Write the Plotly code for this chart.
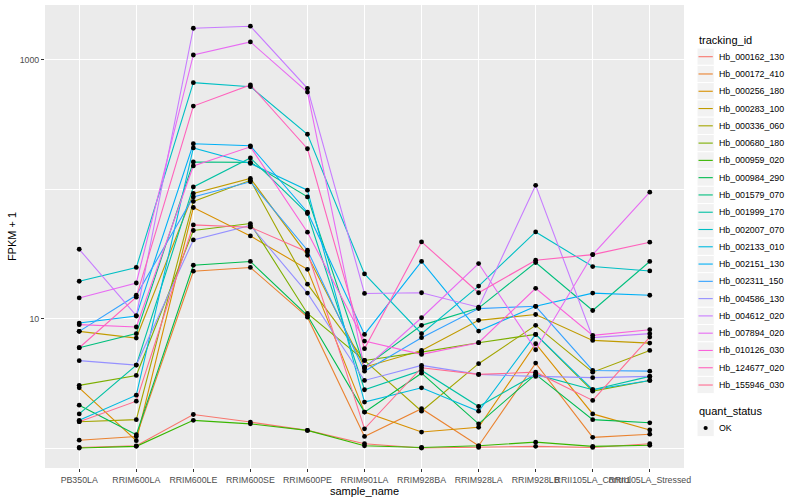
import plotly.graph_objects as go

samples = ["PB350LA", "RRIM600LA", "RRIM600LE", "RRIM600SE", "RRIM600PE", "RRIM901LA",
           "RRIM928BA", "RRIM928LA", "RRIM928LB", "RRII105LA_Control", "RRII105LA_Stressed"]

tracking_ids = ["Hb_000162_130", "Hb_000172_410", "Hb_000256_180", "Hb_000283_100", "Hb_000336_060",
                "Hb_000680_180", "Hb_000959_020", "Hb_000984_290", "Hb_001579_070", "Hb_001999_170",
                "Hb_002007_070", "Hb_002133_010", "Hb_002151_130", "Hb_002311_150", "Hb_004586_130",
                "Hb_004612_020", "Hb_007894_020", "Hb_010126_030", "Hb_124677_020", "Hb_155946_030"]

colors = ["#F8766D", "#EA8331", "#D89000", "#C09B00", "#A3A500", "#7CAE00", "#39B600", "#00BB4E",
          "#00BF7D", "#00C1A3", "#00BFC4", "#00BAE0", "#00B0F6", "#35A2FF", "#9590FF", "#C77CFF",
          "#E76BF3", "#FA62DB", "#FF62BC", "#FF6C91"]

# FPKM + 1 values, one list per tracking_id, in sample order
Hb_000162_130 = [1.02, 1.05, 1.83, 1.60, 1.38, 1.09, 1.01, 1.02, 1.04, 1.02, 1.09]
Hb_000172_410 = [1.16, 1.24, 23.3, 24.9, 10.3, 1.24, 2.03, 1.05, 4.56, 1.22, 1.29]
Hb_000256_180 = [2.94, 1.15, 72.2, 43.6, 24.1, 1.91, 1.34, 1.46, 6.43, 1.85, 1.39]
Hb_000283_100 = [8.01, 7.11, 92.6, 121, 30.9, 4.24, 5.71, 9.74, 10.8, 6.82, 6.50]
Hb_000336_060 = [1.61, 1.67, 80.4, 117, 18.5, 4.78, 1.94, 4.51, 8.91, 3.88, 5.71]
Hb_000680_180 = [3.07, 3.66, 48.0, 54.3, 11.0, 4.78, 5.54, 6.55, 7.59, 2.77, 3.35]
Hb_000959_020 = [1.01, 1.04, 1.65, 1.55, 1.38, 1.05, 1.02, 1.05, 1.12, 1.04, 1.06]
Hb_000984_290 = [2.16, 1.28, 25.9, 27.7, 10.6, 1.91, 3.81, 1.55, 3.73, 1.67, 1.58]
Hb_001579_070 = [5.99, 7.69, 162, 161, 87.2, 4.24, 8.91, 12.1, 27.2, 11.6, 27.7]
Hb_001999_170 = [1.85, 4.40, 104, 174, 64.9, 2.84, 4.00, 2.11, 3.73, 2.84, 3.60]
Hb_002007_070 = [19.5, 24.9, 662, 617, 265, 22.2, 7.69, 17.9, 46.8, 25.3, 23.4]
Hb_002133_010 = [1.65, 2.58, 208, 158, 98.2, 2.28, 2.94, 1.94, 7.59, 2.84, 3.35]
Hb_002151_130 = [9.28, 10.5, 224, 216, 66.4, 7.59, 27.7, 8.05, 12.5, 15.8, 15.2]
Hb_002311_150 = [8.01, 15.2, 87.2, 114, 33.8, 3.95, 7.16, 12.0, 12.5, 4.00, 3.95]
Hb_004586_130 = [4.76, 4.40, 40.6, 52.5, 15.8, 3.35, 4.38, 3.73, 3.60, 3.52, 3.60]
Hb_004612_020 = [34.4, 10.6, 1741, 1805, 599, 15.7, 15.9, 12.3, 107, 7.16, 7.69]
Hb_007894_020 = [14.5, 18.9, 1083, 1365, 561, 4.13, 10.2, 26.7, 5.78, 31.3, 94.8]
Hb_010126_030 = [9.02, 8.65, 151, 212, 46.6, 6.74, 5.32, 6.55, 17.2, 7.46, 8.25]
Hb_124677_020 = [5.99, 14.7, 437, 636, 205, 5.89, 39.2, 15.9, 28.3, 31.3, 39.0]
Hb_155946_030 = [1.61, 2.32, 53.0, 50.9, 32.8, 1.42, 4.20, 3.73, 3.88, 2.35, 7.24]

series = [Hb_000162_130, Hb_000172_410, Hb_000256_180, Hb_000283_100, Hb_000336_060,
          Hb_000680_180, Hb_000959_020, Hb_000984_290, Hb_001579_070, Hb_001999_170,
          Hb_002007_070, Hb_002133_010, Hb_002151_130, Hb_002311_150, Hb_004586_130,
          Hb_004612_020, Hb_007894_020, Hb_010126_030, Hb_124677_020, Hb_155946_030]

quant_status = ["OK"]

FONT = "Liberation Sans, Arial, Helvetica, sans-serif"
W, H = 800, 500
PL, PR, PT, PB = 45, 684, 5, 468  # panel edges in pixels


def px(x):
    return (x - PL) / (PR - PL)


def py(y):
    return (PB - y) / (PB - PT)


fig = go.Figure()

for name, col, vals in zip(tracking_ids, colors, series):
    fig.add_trace(go.Scatter(x=samples, y=vals, mode="lines", name=name,
                             line=dict(color=col, width=1.1), showlegend=False,
                             hoverinfo="skip"))

for name, vals in zip(tracking_ids, series):
    fig.add_trace(go.Scatter(x=samples, y=vals, mode="markers", name=quant_status[0],
                             marker=dict(color="black", size=4.8), showlegend=False))

shapes = []
annotations = []

# legend: tracking_id
key = 17.28
kx0 = 697.0
ky0 = 56.7
annotations.append(dict(x=px(kx0), y=py(39.5), xref="paper", yref="paper", text="tracking_id",
                        showarrow=False, xanchor="left", yanchor="middle",
                        font=dict(size=11, color="black", family=FONT)))
for i, (name, col) in enumerate(zip(tracking_ids, colors)):
    cy = ky0 + i * key
    shapes.append(dict(type="rect", xref="paper", yref="paper",
                       x0=px(kx0), x1=px(kx0 + key), y0=py(cy - key / 2), y1=py(cy + key / 2),
                       fillcolor="#F2F2F2", line=dict(color="white", width=1), layer="above"))
    shapes.append(dict(type="line", xref="paper", yref="paper",
                       x0=px(kx0 + 1.5), x1=px(kx0 + key - 1.5), y0=py(cy), y1=py(cy),
                       line=dict(color=col, width=1.1), layer="above"))
    annotations.append(dict(x=px(kx0 + key + 2.5), y=py(cy), xref="paper", yref="paper", text=name,
                            showarrow=False, xanchor="left", yanchor="middle",
                            font=dict(size=8.8, color="black", family=FONT)))

# legend: quant_status
qy = 428.0
annotations.append(dict(x=px(kx0), y=py(411), xref="paper", yref="paper", text="quant_status",
                        showarrow=False, xanchor="left", yanchor="middle",
                        font=dict(size=11, color="black", family=FONT)))
shapes.append(dict(type="rect", xref="paper", yref="paper",
                   x0=px(kx0), x1=px(kx0 + key), y0=py(qy - key / 2), y1=py(qy + key / 2),
                   fillcolor="#F2F2F2", line=dict(color="white", width=1), layer="above"))
shapes.append(dict(type="circle", xref="paper", yref="paper",
                   x0=px(kx0 + key / 2 - 2.1), x1=px(kx0 + key / 2 + 2.1),
                   y0=py(qy - 2.1), y1=py(qy + 2.1),
                   fillcolor="black", line=dict(color="black", width=0), layer="above"))
annotations.append(dict(x=px(kx0 + key + 2.5), y=py(qy), xref="paper", yref="paper", text=quant_status[0],
                        showarrow=False, xanchor="left", yanchor="middle",
                        font=dict(size=8.8, color="black", family=FONT)))

fig.update_layout(
    width=W, height=H,
    margin=dict(l=PL, r=W - PR, t=PT, b=H - PB, autoexpand=False),
    paper_bgcolor="white", plot_bgcolor="#EBEBEB",
    font=dict(family=FONT, size=8.8, color="#4D4D4D"),
    showlegend=False,
    shapes=shapes, annotations=annotations,
    xaxis=dict(type="category", categoryorder="array", categoryarray=samples,
               range=[-0.6, 10.6], showgrid=True, gridcolor="white", gridwidth=1.1,
               zeroline=False, showline=False, ticks="outside", ticklen=3, tickwidth=1,
               tickcolor="#333333", tickangle=0, tickfont=dict(size=8.8, color="#4D4D4D"),
               title=dict(text="sample_name", font=dict(size=11, color="black"), standoff=1),
               automargin=False),
    yaxis=dict(type="log", range=[-0.15, 3.42], tickmode="array", tickvals=[10, 1000],
               ticktext=["10", "1000"], showgrid=True, gridcolor="white", gridwidth=1.1,
               zeroline=False, showline=False, ticks="outside", ticklen=3, tickwidth=1,
               tickcolor="#333333", tickfont=dict(size=8.8, color="#4D4D4D"),
               minor=dict(tickmode="array", tickvals=[1, 100], showgrid=True,
                          gridcolor="white", gridwidth=0.55, ticklen=0),
               title=dict(text="FPKM + 1", font=dict(size=11, color="black"), standoff=0),
               automargin=False),
)

fig.write_html("out.html", config={"displayModeBar": False},
               post_script="document.body.style.margin='0';document.body.style.overflow='hidden';")
